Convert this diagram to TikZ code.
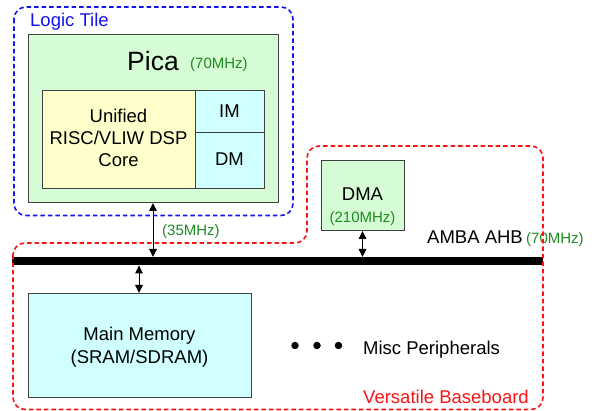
\documentclass[tikz,border=0pt]{standalone}
\usepackage{fontspec}
\setmainfont{Liberation Sans}
\usetikzlibrary{arrows.meta}

\definecolor{picagreen}{RGB}{213,252,213}
\definecolor{coreyellow}{RGB}{255,255,204}
\definecolor{memcyan}{RGB}{208,255,255}
\definecolor{freqgreen}{RGB}{30,140,30}
\definecolor{tileblue}{RGB}{20,20,240}
\definecolor{boardred}{RGB}{250,20,20}

\tikzset{
  box/.style={draw=black!75, line width=1pt, anchor=north west, inner sep=0pt},
  txt/.style={inner sep=0pt, font=\fontsize{18.5}{22}\selectfont},
  freq/.style={inner sep=0pt, text=freqgreen, font=\fontsize{15}{18}\selectfont},
  outline/.style={line width=1.6pt, dash pattern=on 4.5pt off 3pt, rounded corners=12pt},
  biarrow/.style={line width=1pt, {Triangle[length=8pt,width=7.5pt]}-{Triangle[length=8pt,width=7.5pt]}},
  dot/.style={circle, fill=black, inner sep=0pt, minimum size=7.5pt}
}

\begin{document}
\begin{tikzpicture}[x=1pt, y=-1pt]
\useasboundingbox (0,0) rectangle (594,411);

% Pica processor block
\node[box, fill=picagreen, minimum width=250pt, minimum height=168pt] (pica) at (28,34) {};
\node[inner sep=0pt, anchor=base west, font=\fontsize{26.5}{30}\selectfont] (picatitle) at (127,70.5) {Pica};
\node[freq, anchor=base west] (picafreq) at (190,68.5) {(70MHz)};

\node[box, fill=coreyellow, minimum width=153pt, minimum height=98pt] (core) at (42,90) {};
\node[txt, anchor=base] (core1) at (118.5,123) {Unified};
\node[txt, anchor=base] (core2) at (118.5,145) {RISC/VLIW DSP};
\node[txt, anchor=base] (core3) at (118.5,167) {Core};

\node[box, fill=memcyan, minimum width=69pt, minimum height=42pt] (im) at (195,90) {};
\node[box, fill=memcyan, minimum width=69pt, minimum height=56pt] (dm) at (195,132) {};
\node[txt, anchor=base] (imtext) at (229.5,117.5) {IM};
\node[txt, anchor=base] (dmtext) at (229.5,166) {DM};

% DMA controller
\node[box, fill=picagreen, minimum width=83pt, minimum height=70pt] (dma) at (321,160) {};
\node[txt, anchor=base] (dmatext) at (362.5,201) {DMA};
\node[freq, anchor=base] (dmafreq) at (362.5,223) {(210MHz)};

% AMBA AHB bus
\node[fill=black, inner sep=0pt, anchor=north west, minimum width=531pt, minimum height=8pt] (bus) at (12,257) {};
\node[txt, anchor=base west] (ahb) at (427,243.5) {AMBA AHB};
\node[freq, anchor=base west] (ahbfreq) at (526,243.5) {(70MHz)};

% Main memory
\node[box, fill=memcyan, minimum width=223pt, minimum height=104pt] (mem) at (28,293) {};
\node[txt, anchor=base] (mem1) at (139.5,341) {Main Memory};
\node[txt, anchor=base] (mem2) at (139.5,363) {(SRAM/SDRAM)};

% Peripherals
\node[dot] (d1) at (295,345.5) {};
\node[dot] (d2) at (317,345.5) {};
\node[dot] (d3) at (338.5,345.5) {};
\node[txt, anchor=base west] (misc) at (363,354.5) {Misc Peripherals};

% Connections to the bus
\coordinate (xp) at (153,0);
\coordinate (xd) at (362.5,0);
\coordinate (xm) at (139,0);
\draw[biarrow] (pica.south -| xp) -- (bus.north -| xp);
\node[freq, anchor=base west] (picabus) at (162,235.5) {(35MHz)};
\draw[biarrow] (dma.south -| xd) -- (bus.north -| xd);
\draw[biarrow] (bus.south -| xm) -- (mem.north -| xm);

% Board outlines
\draw[outline, tileblue] (14,7) rectangle (293,215.5);
\node[inner sep=0pt, anchor=base west, text=tileblue, font=\fontsize{18.5}{22}\selectfont] (tilelabel) at (30,26.5) {Logic Tile};

\draw[outline, boardred] (13,243) -- (13,409.5) -- (543,409.5) -- (543,146) -- (307,146) -- (307,243) -- cycle;
\node[inner sep=0pt, anchor=base west, text=boardred, font=\fontsize{18.5}{22}\selectfont] (boardlabel) at (363,403) {Versatile Baseboard};
\end{tikzpicture}
\end{document}
